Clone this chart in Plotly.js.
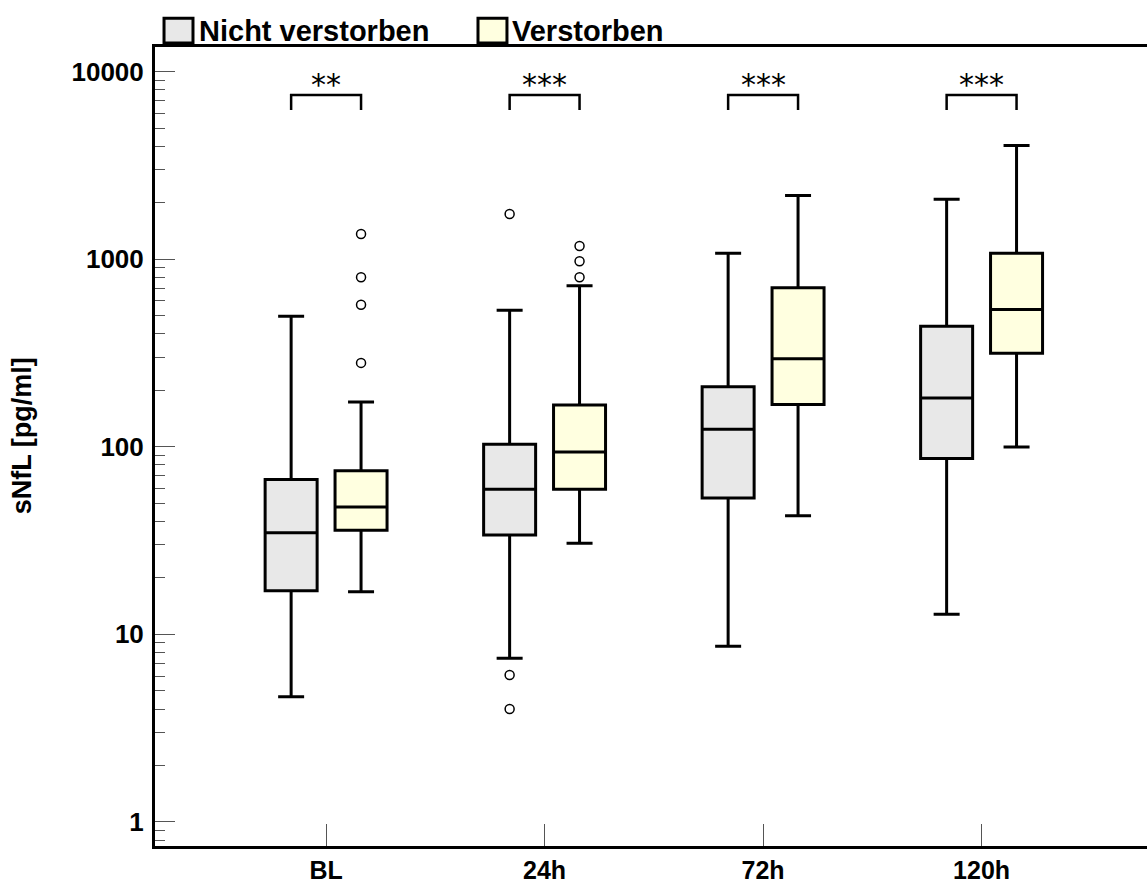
<!DOCTYPE html>
<html>
<head>
<meta charset="utf-8">
<script src="https://cdn.plot.ly/plotly-3.0.1.min.js"></script>
<style>
html, body { margin: 0; padding: 0; background: #fff; overflow: hidden; }
#chart { width: 1147px; height: 883px; }
</style>
</head>
<body>
<div id="chart"></div>
<script>
// ---- data ----
var categories = ['BL', '24h', '72h', '120h'];
var seriesNames = ['Nicht verstorben', 'Verstorben'];

var aliveLower  = [4.65, 7.46, 8.64, 12.8];
var aliveQ1     = [17.1, 33.9, 53.4, 86.5];
var aliveMedian = [34.8, 59.4, 124, 182];
var aliveQ3     = [67, 103, 209, 439];
var aliveUpper  = [496, 534, 1075, 2085];
var aliveOutliers = [[], [1742, 6.08, 4.0], [], []];

var deadLower  = [16.9, 30.6, 42.9, 99.7];
var deadQ1     = [35.9, 59.4, 168, 315];
var deadMedian = [47.8, 93.8, 295, 539];
var deadQ3     = [74.6, 167, 705, 1075];
var deadUpper  = [173, 722, 2188, 4034];
var deadOutliers = [[1362, 801, 572, 280], [1175, 975, 801], [], []];

var significance = ['**', '***', '***', '***'];
var yTickVals = [1, 10, 100, 1000, 10000];
var yTickText = ['1', '10', '100', '1000', '10000'];
var yTitle = 'sNfL [pg/ml]';

// ---- styles / layout constants ----
var FONT = 'Liberation Sans, Arial, Helvetica, sans-serif';
var colors = ['#e8e8e8', '#ffffe0'];
var groupOffsets = [-0.16, 0.16]; // box centre offset from category position
var boxWidth = 0.238;             // in category units

var catPos = categories.map(function (c, i) { return i; });

function boxTrace(k, lo, q1, med, q3, up) {
  return {
    type: 'box',
    name: seriesNames[k],
    x: catPos.map(function (p) { return p + groupOffsets[k]; }),
    q1: q1, median: med, q3: q3,
    lowerfence: lo, upperfence: up,
    width: boxWidth,
    whiskerwidth: 0.5,
    boxpoints: false,
    fillcolor: colors[k],
    line: { color: '#000', width: 3 },
    showlegend: false,
    hoverinfo: 'skip'
  };
}

function outlierTrace(k, outl) {
  var xs = [], ys = [];
  outl.forEach(function (vals, i) {
    vals.forEach(function (v) { xs.push(catPos[i] + groupOffsets[k]); ys.push(v); });
  });
  return {
    type: 'scatter', mode: 'markers', x: xs, y: ys,
    marker: { symbol: 'circle-open', size: 9, color: '#000', line: { width: 1.5 } },
    showlegend: false, hoverinfo: 'skip'
  };
}

var data = [
  boxTrace(0, aliveLower, aliveQ1, aliveMedian, aliveQ3, aliveUpper),
  boxTrace(1, deadLower, deadQ1, deadMedian, deadQ3, deadUpper),
  outlierTrace(0, aliveOutliers),
  outlierTrace(1, deadOutliers)
];

// significance brackets and stars
var shapes = [];
var annotations = [];
var brTop = 0.940, brBottom = 0.921;
catPos.forEach(function (p, i) {
  var a = p + groupOffsets[0], b = p + groupOffsets[1];
  shapes.push({
    type: 'path', xref: 'x', yref: 'paper',
    path: 'M' + a + ',' + brBottom + ' L' + a + ',' + brTop + ' L' + b + ',' + brTop + ' L' + b + ',' + brBottom,
    line: { color: '#000', width: 2.5 }
  });
  annotations.push({
    xref: 'x', yref: 'paper', x: p, y: 0.953, yanchor: 'middle',
    text: significance[i], showarrow: false,
    font: { family: 'DejaVu Sans, sans-serif', size: 30, color: '#000' }
  });
});

// manual legend
var legendItems = [
  { x0: 0.0091, x1: 0.0383, tx: 0.0424 },
  { x0: 0.3256, x1: 0.3548, tx: 0.3577 }
];
legendItems.forEach(function (it, k) {
  shapes.push({
    type: 'rect', xref: 'paper', yref: 'paper',
    x0: it.x0, x1: it.x1, y0: 1.005, y1: 1.036,
    fillcolor: colors[k], line: { color: '#000', width: 3 }
  });
  annotations.push({
    xref: 'paper', yref: 'paper', x: it.tx, y: 1.0205, xanchor: 'left', yanchor: 'middle',
    text: '<b>' + seriesNames[k] + '</b>', showarrow: false,
    font: { family: FONT, size: 29, color: '#000' }
  });
});

// y-axis title as rotated text
annotations.push({
  xref: 'paper', yref: 'paper', x: -0.134, y: 0.513, xanchor: 'center', yanchor: 'middle',
  text: '<b>' + yTitle + '</b>', textangle: -90, showarrow: false,
  font: { family: FONT, size: 27, color: '#000' }
});

var layout = {
  width: 1147,
  height: 883,
  margin: { l: 155, r: 0, t: 47, b: 37 },
  paper_bgcolor: '#fff',
  plot_bgcolor: '#fff',
  boxmode: 'overlay',
  showlegend: false,
  font: { family: FONT, color: '#000' },
  xaxis: {
    type: 'linear',
    range: [-0.783, 3.757],
    tickvals: catPos,
    ticktext: categories,
    showline: true, linewidth: 3, linecolor: '#000', mirror: true,
    ticks: 'inside', ticklen: 22, tickwidth: 1, tickcolor: '#555',
    showgrid: false, zeroline: false,
    tickfont: { family: FONT, size: 25, color: '#000', weight: 'bold' },
    ticklabelstandoff: 0
  },
  yaxis: {
    type: 'log',
    range: [-0.128, 4.131],
    tickvals: yTickVals,
    ticktext: yTickText,
    showline: true, linewidth: 3, linecolor: '#000', mirror: false,
    ticks: 'inside', ticklen: 20, tickwidth: 1, tickcolor: '#555',
    minor: { ticks: 'inside', ticklen: 10, tickwidth: 1, tickcolor: '#555', dtick: 'D1', showgrid: false },
    showgrid: false, zeroline: false,
    tickfont: { family: FONT, size: 26, color: '#000', weight: 'bold' },
    ticklabelstandoff: 3
  },
  shapes: shapes,
  annotations: annotations
};

Plotly.newPlot('chart', data, layout, { staticPlot: true });
</script>
</body>
</html>
